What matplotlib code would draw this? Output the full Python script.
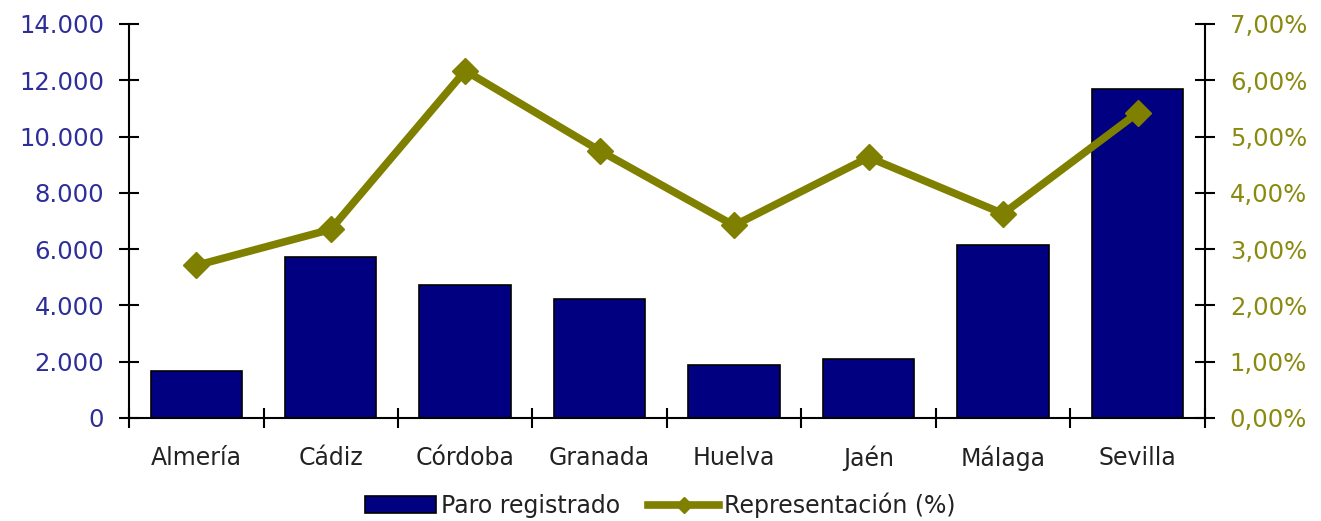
import matplotlib
matplotlib.use('Agg')
import matplotlib.pyplot as plt
from matplotlib.ticker import FuncFormatter, FixedLocator

provincias = ['Almería', 'Cádiz', 'Córdoba', 'Granada', 'Huelva', 'Jaén', 'Málaga', 'Sevilla']
paro = [1680, 5710, 4710, 4220, 1880, 2090, 6130, 11700]
representacion = [2.71, 3.35, 6.17, 4.75, 3.42, 4.63, 3.63, 5.42]

plt.rcParams['font.family'] = ['DejaVu Sans']

fig = plt.figure(figsize=(13.21, 5.21), dpi=100)
ax = fig.add_axes([0.0977, 0.1977, 0.8143, 0.7563])
x = list(range(len(provincias)))

bars = ax.bar(x, paro, width=0.68, color='#000080', edgecolor='black',
              linewidth=1.2, label='Paro registrado', zorder=2)
ax.set_xlim(-0.5, len(provincias) - 0.5)
ax.set_ylim(0, 14000)
ax.set_yticks(range(0, 14001, 2000))
ax.yaxis.set_major_formatter(FuncFormatter(lambda v, p: f'{int(v):,}'.replace(',', '.')))
ax.tick_params(axis='y', direction='inout', length=14, width=1.5,
               labelsize=17.5, labelcolor='#2e2e9a', pad=11)

ax.set_xticks(x)
ax.set_xticklabels(provincias)
ax.xaxis.set_minor_locator(FixedLocator([i - 0.5 for i in range(len(provincias) + 1)]))
ax.tick_params(axis='x', which='major', length=0, labelsize=17,
               labelcolor='#222222', pad=20)
ax.tick_params(axis='x', which='minor', direction='inout', length=14, width=1.5)

ax2 = ax.twinx()
line, = ax2.plot(x, representacion, color='#808000', linewidth=5.5,
                 marker='D', markersize=13, label='Representación (%)', zorder=3)
ax2.set_ylim(0, 7)
ax2.set_yticks(range(0, 8))
ax2.yaxis.set_major_formatter(FuncFormatter(lambda v, p: f'{v:.2f}%'.replace('.', ',')))
ax2.tick_params(axis='y', direction='inout', length=14, width=1.5,
                labelsize=17.5, labelcolor='#8a8a10', pad=11)

for a in (ax, ax2):
    a.spines['top'].set_visible(False)
    for s in ('left', 'right', 'bottom'):
        a.spines[s].set_linewidth(1.5)
ax.spines['right'].set_visible(False)
ax2.spines['left'].set_visible(False)
ax2.spines['bottom'].set_visible(False)

leg = fig.legend([bars, line], ['Paro registrado', 'Representación (%)'],
                 loc='lower center', bbox_to_anchor=(0.5, -0.035), ncol=2, frameon=False,
                 fontsize=17, handlelength=3, handletextpad=0.2, columnspacing=1.2,
                 markerscale=0.6)
for t in leg.get_texts():
    t.set_color('#222222')

fig.savefig('out.png', dpi=100)
